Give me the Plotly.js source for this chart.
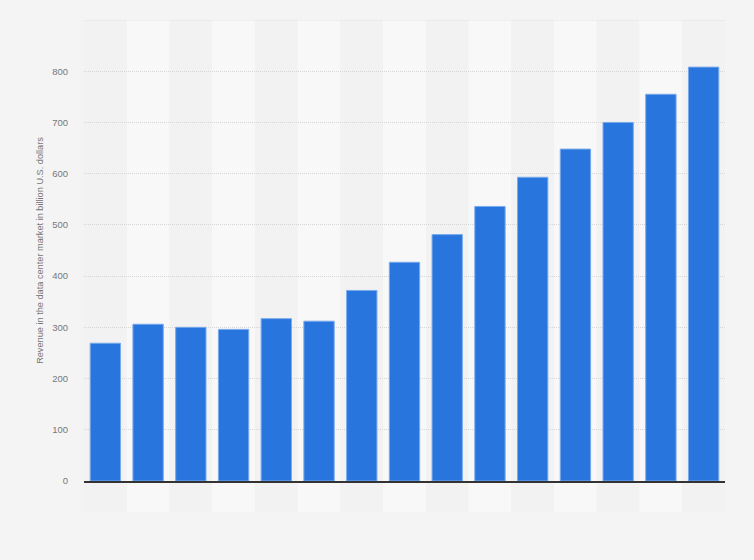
<!DOCTYPE html>
<html>
<head>
<meta charset="utf-8">
<script src="https://cdn.plot.ly/plotly-3.0.1.min.js"></script>
<style>
  html, body { margin: 0; padding: 0; background: #f4f4f4; }
  #chart { width: 754px; height: 560px; }
</style>
</head>
<body>
<div id="chart"></div>
<script>
// categories are not labelled in the picture, so the tick labels are hidden
var years = ['2010', '2011', '2012', '2013', '2014', '2015', '2016', '2017',
             '2018', '2019', '2020', '2021', '2022', '2023', '2024'];
var revenue = [269, 306, 300, 296, 317, 312, 372, 427, 481, 536, 593, 648, 700, 755, 808];
var yTicks = [0, 100, 200, 300, 400, 500, 600, 700, 800];
var yMax = 900;

// alternating column stripes behind the bars
var shapes = years.map(function (yr, i) {
  return {
    type: 'rect', layer: 'below',
    xref: 'x', yref: 'paper',
    x0: i - 0.5, x1: i + 0.5, y0: -0.068, y1: 1,
    fillcolor: i % 2 === 0 ? '#f2f2f2' : '#f8f8f8',
    line: { width: 0 }
  };
});
// top gridline at the end of the range
shapes.push({
  type: 'line', layer: 'below',
  xref: 'paper', yref: 'y',
  x0: 0, x1: 1, y0: yMax, y1: yMax,
  line: { color: '#d6d6d6', width: 1, dash: '1px,1px' }
});

var bars = {
  x: years,
  y: revenue,
  type: 'bar',
  marker: { color: '#2876dd', line: { color: '#7aa9ec', width: 1 } },
  hoverinfo: 'y'
};

var layout = {
  width: 754,
  height: 560,
  margin: { l: 84, r: 29, t: 20, b: 79 },
  paper_bgcolor: '#f4f4f4',
  plot_bgcolor: 'rgba(0,0,0,0)',
  bargap: 0.29,
  showlegend: false,
  font: { family: '"Liberation Sans", Arial, sans-serif', color: '#777', size: 9 },
  shapes: shapes,
  xaxis: {
    type: 'category',
    showticklabels: false,
    showgrid: false,
    showline: true,
    linecolor: '#333',
    linewidth: 1.5,
    ticks: '',
    range: [-0.5, years.length - 0.5],
    fixedrange: true
  },
  yaxis: {
    range: [0, yMax],
    tickvals: yTicks,
    showgrid: true,
    gridcolor: '#d6d6d6',
    griddash: '1px,1px',
    gridwidth: 1,
    zeroline: false,
    showline: false,
    ticks: '',
    ticklabelstandoff: 15,
    tickfont: { size: 9.5, color: '#777' },
    title: {
      text: 'Revenue in the data center market in billion U.S. dollars',
      font: { size: 9.2, color: '#777' },
      standoff: 6
    },
    fixedrange: true
  }
};

Plotly.newPlot('chart', [bars], layout, { displayModeBar: false, staticPlot: true });
</script>
</body>
</html>
